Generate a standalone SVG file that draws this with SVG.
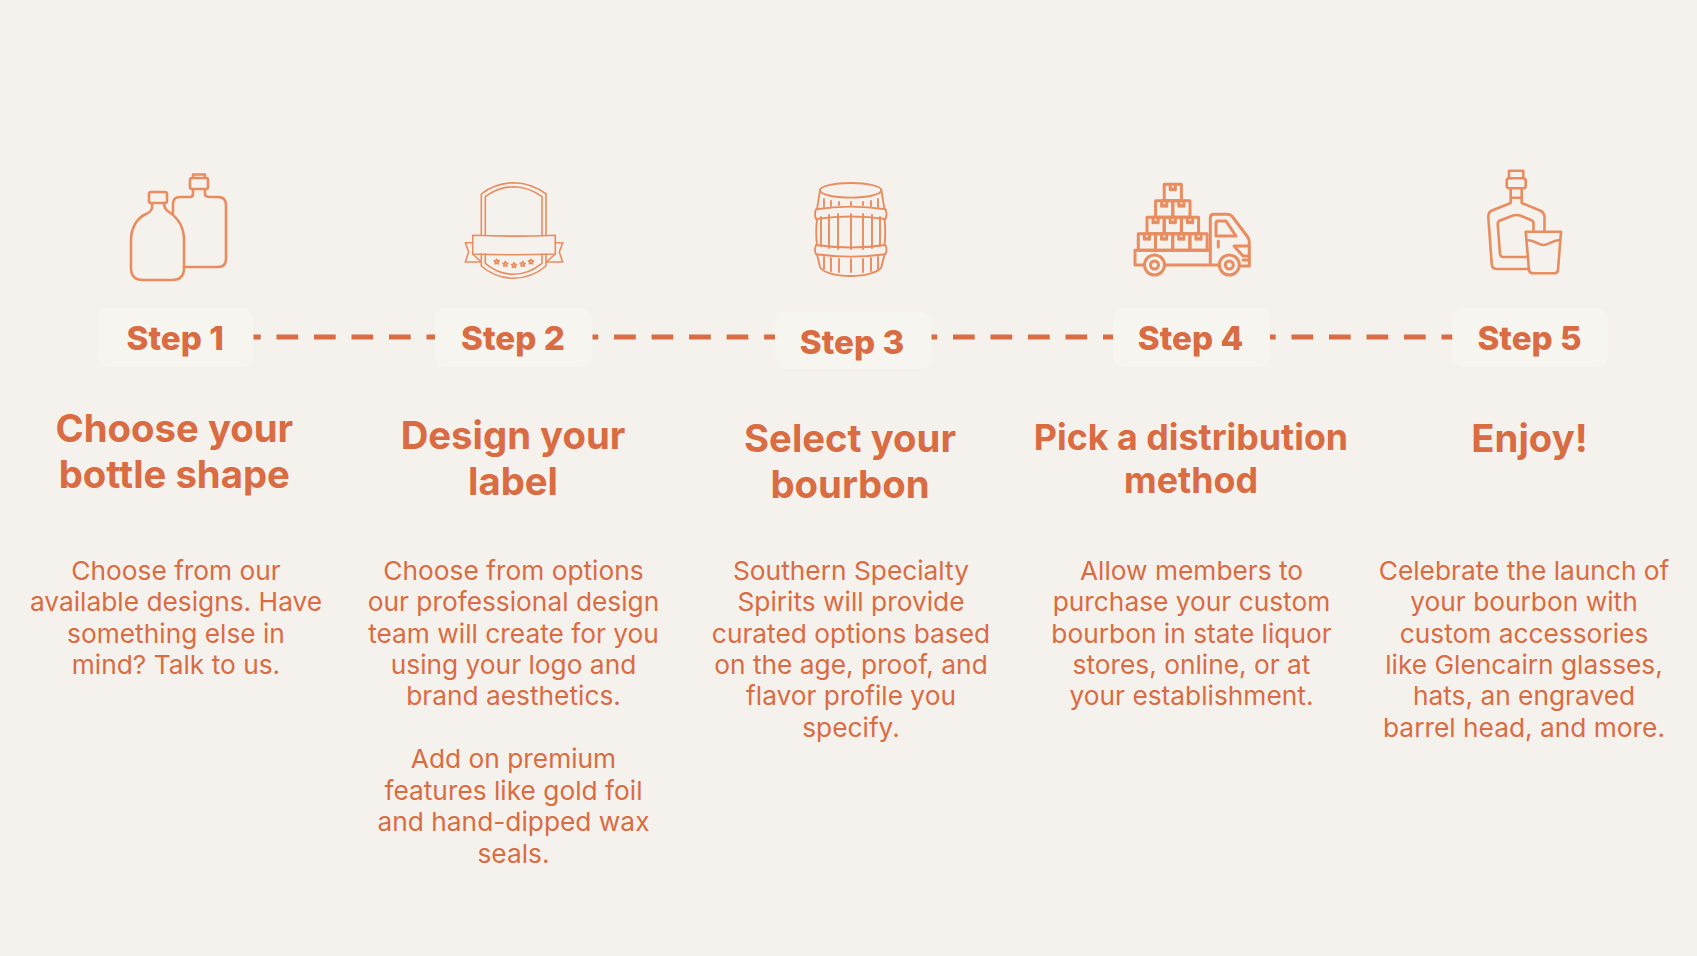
<svg xmlns="http://www.w3.org/2000/svg" width="1697" height="956" viewBox="0 0 1697 956">
<style>
text{font-family:Inter,"Liberation Sans",sans-serif;fill:#D96C42;text-anchor:middle}
.s{font-size:33.2px;font-weight:800}
.t{font-size:38.3px;font-weight:750}
.t4{font-size:35.8px;font-weight:750}
.b{font-size:26.3px;font-weight:400}
.box{fill:#F7F5EF}
.dash{stroke:#D96C42;stroke-width:5;stroke-dasharray:21.7 15.8;fill:none}
.i{fill:none;stroke:#E98C60;stroke-width:2.6;stroke-linejoin:round;stroke-linecap:round}
.thin{stroke-width:1.6}
.mid{stroke-width:1.9}
.heavy{stroke-width:3}
</style>
<defs>
<polygon id="star" points="0,-2.6 0.8,-0.9 2.6,-0.8 1.2,0.4 1.6,2.2 0,1.3 -1.6,2.2 -1.2,0.4 -2.6,-0.8 -0.8,-0.9"/>
<g id="box"><rect width="17.2" height="16.5"/><path d="M6,0V5.5L7.3,4.4 8.6,5.5 9.9,4.4 11.2,5.5V0"/></g>
</defs>
<rect width="1697" height="956" fill="#F5F2ED"/>
<g id="connectors">
<line class="dash" x1="253.5" y1="337" x2="436" y2="337" stroke-dashoffset="14.5"/>
<line class="dash" x1="592.5" y1="337" x2="775" y2="337" stroke-dashoffset="15.9"/>
<line class="dash" x1="931.5" y1="337" x2="1113" y2="337" stroke-dashoffset="16"/>
<line class="dash" x1="1270" y1="337" x2="1452.5" y2="337" stroke-dashoffset="16"/>
</g>
<g id="step1">
<g class="i"><rect x="149" y="192" width="18" height="11" rx="2"/><path d="M152,203V208Q151,212 146,214C137,218 131,228 131,240V268Q131,280 143,280H172Q184,280 184,268V240C184,228 178,218 169,212Q164,209 164,203"/><path d="M193,178V174.5H205V178M190,180Q190,178 192,178H206Q208,178 208,180V187Q208,189 206,189H192Q190,189 190,187ZM193,189V194Q193,197 190,197H180Q173,197 173,204V213M205,189V194Q205,197 210,197H218Q226,197 226,205V259Q226,267 218,267H184"/></g>
<rect class="box" x="98" y="308" width="155" height="59" rx="10"/>
<text class="s" x="175.2" y="349.5">Step 1</text>
<text class="t" x="174.3" y="441.5">Choose your</text><text class="t" x="174.3" y="487.5">bottle shape</text>
<text class="b" x="176" y="580">Choose from our</text><text class="b" x="176" y="611">available designs. Have</text><text class="b" x="176" y="643">something else in</text><text class="b" x="176" y="674">mind? Talk to us.</text>
</g>
<g id="step2">
<g class="i thin"><path d="M481.3,235V194Q495,183 513.5,182.7Q532,183 546,194V235M485.3,235V196.7Q498,187 513.5,186.7Q529,187 542,196.7V235"/><path d="M472.7,235.3Q514,237 555.3,235.3V254Q514,255.5 472.7,254Z"/><path d="M472.7,242.7H465.3L468.7,252 465.3,262H481.3L472.7,254M555.3,242.7H562.7L559.3,252 562.7,262H546.3L555.3,254"/><path d="M481.3,254V266Q495,278 513.5,278.3Q532,278 546,266V254M485.3,254V263.3Q498,274 513.5,274.3Q529,274 542,263.3V254"/>
<use href="#star" x="496.7" y="261.7"/><use href="#star" x="505.3" y="264"/><use href="#star" x="514" y="265.3"/><use href="#star" x="522.7" y="264"/><use href="#star" x="531" y="261.7"/></g>
<rect class="box" x="435" y="308" width="157" height="59" rx="10"/>
<text class="s" x="513" y="349.5">Step 2</text>
<text class="t" x="513" y="449">Design your</text><text class="t" x="513" y="495">label</text>
<text class="b" x="513.5" y="580">Choose from options</text><text class="b" x="513.5" y="611">our professional design</text><text class="b" x="513.5" y="643">team will create for you</text><text class="b" x="513.5" y="674">using your logo and</text><text class="b" x="513.5" y="705">brand aesthetics.</text>
<text class="b" x="513.5" y="768">Add on premium</text><text class="b" x="513.5" y="800">features like gold foil</text><text class="b" x="513.5" y="831">and hand-dipped wax</text><text class="b" x="513.5" y="863">seals.</text>
</g>
<g id="step3">
<g class="i mid"><ellipse cx="850.7" cy="190.3" rx="30.7" ry="7.3"/><path d="M820,190.3L817,209.3M881.4,190.3L884.5,209.3M817,219Q815.5,232 817,245M884.5,219Q886,232 884.5,245M817,254.3L820,267C822,272 835,276 850.7,276C866,276 879,272 881.4,267L884.5,254.3"/><path d="M816,209.3Q851,204 885.5,209.3Q887.5,214 885.5,219Q851,214 816,219Q814,214 816,209.3ZM816,245Q851,250 885.5,245Q887.5,250 885.5,254.3Q851,259 816,254.3Q814,250 816,245Z"/><path d="M824,199V207M831,201V206M839,202V205M851,202V205M863,202V205M871,201V206M878,199V207M821,217V246M829,215V248M838,214V249M851,214V249M863,214V249M872,215V248M880,217V246M824,257V269M831,258V271M839,259V272M851,259V272M863,259V272M871,258V271M878,257V269"/></g>
<rect class="box" x="775" y="312" width="156" height="57" rx="10"/>
<text class="s" x="852" y="353.5">Step 3</text>
<text class="t" x="850" y="451.5">Select your</text><text class="t" x="850" y="497.5">bourbon</text>
<text class="b" x="851" y="580">Southern Specialty</text><text class="b" x="851" y="611">Spirits will provide</text><text class="b" x="851" y="643">curated options based</text><text class="b" x="851" y="674">on the age, proof, and</text><text class="b" x="851" y="705">flavor profile you</text><text class="b" x="851" y="737">specify.</text>
</g>
<g id="step4">
<g class="i heavy" transform="translate(1,0)"><use href="#box" x="1137.3" y="233.8"/><use href="#box" x="1154.5" y="233.8"/><use href="#box" x="1171.7" y="233.8"/><use href="#box" x="1188.9" y="233.8"/><use href="#box" x="1146" y="217.3"/><use href="#box" x="1163.2" y="217.3"/><use href="#box" x="1180.4" y="217.3"/><use href="#box" x="1154.6" y="200.8"/><use href="#box" x="1171.8" y="200.8"/><use href="#box" x="1163.2" y="184.3"/>
<path d="M1143.5,265H1134V250.3H1209.3M1163.5,265H1218M1209.3,265V218Q1209.3,214.3 1213,214.3H1226Q1230,214.3 1232,217.5L1246,236Q1248.3,239 1248.3,242V266H1238.5"/><circle cx="1153.5" cy="265" r="10"/><circle cx="1153.5" cy="265" r="4"/><circle cx="1228.3" cy="265" r="10"/><circle cx="1228.3" cy="265" r="4"/><path d="M1215,223Q1215,221 1217,221H1225L1235,236H1215ZM1217.3,241V247M1248,246H1233L1242,256H1248M1242,260H1248"/></g>
<rect class="box" x="1113" y="308" width="157" height="59" rx="10"/>
<text class="s" x="1190.5" y="349.5">Step 4</text>
<text class="t4" x="1191" y="450">Pick a distribution</text><text class="t4" x="1191" y="493">method</text>
<text class="b" x="1191.5" y="580">Allow members to</text><text class="b" x="1191.5" y="611">purchase your custom</text><text class="b" x="1191.5" y="643">bourbon in state liquor</text><text class="b" x="1191.5" y="674">stores, online, or at</text><text class="b" x="1191.5" y="705">your establishment.</text>
</g>
<g id="step5">
<g class="i"><path d="M1509,178.3V170.7H1523.3V178.3"/><rect x="1506.7" y="178.3" width="19" height="10" rx="2.5"/><path d="M1510.7,188.3V203L1492,210.5Q1488.3,212 1488.3,217L1491.7,264Q1492,269 1497,269H1528M1521.7,188.3V203L1540,210.5Q1544.3,212.5 1544.5,217V231M1510.7,197.7H1521.7M1533.5,231V223Q1533.5,221 1531,220L1520,215.5Q1516.7,214.5 1513,215.5L1500,220.5Q1497.7,221.5 1497.7,224L1500,254Q1500.5,257 1503,257H1526.7"/><path d="M1525.7,231.7H1561L1558,270Q1557.5,273.3 1554,273.3H1533Q1529.5,273.3 1529,270ZM1526.7,240C1535,240 1538,245 1543.5,245C1549,245 1552,240 1560.3,240"/></g>
<rect class="box" x="1452.5" y="308" width="155" height="59" rx="10"/>
<text class="s" x="1529.5" y="349.5">Step 5</text>
<text class="t" x="1529.5" y="451.5">Enjoy!</text>
<text class="b" x="1524" y="580">Celebrate the launch of</text><text class="b" x="1524" y="611">your bourbon with</text><text class="b" x="1524" y="643">custom accessories</text><text class="b" x="1524" y="674">like Glencairn glasses,</text><text class="b" x="1524" y="705">hats, an engraved</text><text class="b" x="1524" y="737">barrel head, and more.</text>
</g>
</svg>
